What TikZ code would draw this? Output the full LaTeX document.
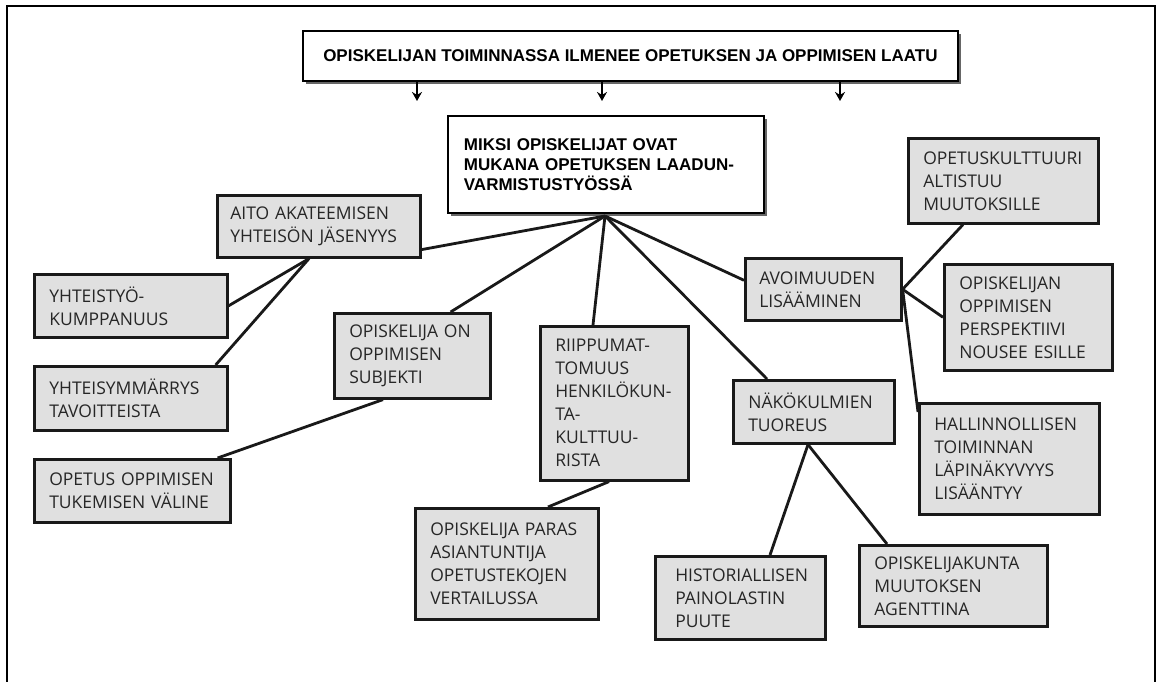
\documentclass[tikz,border=0pt]{standalone}
\usepackage{fontspec}
\usepackage{tikz}
\usetikzlibrary{arrows.meta,shadows}

\newfontfamily\leaffamily{Open Sans}
\newfontfamily\headfamily{Liberation Sans}
\newcommand{\leaffont}{\leaffamily\fontsize{17.5pt}{23pt}\selectfont\hyphenpenalty=10000 }
\newcommand{\headfont}{\headfamily\bfseries\fontsize{17pt}{20pt}\selectfont}

\begin{document}
\begin{tikzpicture}[
    x=1pt, y=-1pt,
    >={Stealth[length=9pt,width=10pt]},
    leaf/.style={draw=black!90, line width=2.6pt, fill=black!12, text=black!85,
        font=\leaffont, align=left, inner xsep=15pt, inner ysep=0pt, anchor=north west},
    head/.style={draw=black, line width=1.8pt, fill=white, font=\headfont,
        inner ysep=0pt, anchor=north west,
        general shadow={fill=black!60, shadow xshift=3pt, shadow yshift=-3pt}},
    link/.style={line width=2.8pt, black!90},
]
\useasboundingbox (0,0) rectangle (1161,682);

% === Frame (open at the bottom) ===
\draw[line width=2pt] (7,682) -- (7,6) -- (1155,6) -- (1155,682);

% === Heading boxes ===
\node[head, minimum width=655pt, minimum height=50pt, align=center] (laatu) at (302,30)
    {OPISKELIJAN TOIMINNASSA ILMENEE OPETUKSEN JA OPPIMISEN LAATU};
\node[head, text width=284pt, inner xsep=16pt, minimum height=97pt, align=left] (miksi) at (447,115)
    {MIKSI OPISKELIJAT OVAT\\MUKANA OPETUKSEN LAADUN-\\VARMISTUSTYÖSSÄ};

% short arrows below the top box
\coordinate (a1) at (417,101);
\coordinate (a2) at (602,101);
\coordinate (a3) at (840,101);
\foreach \a in {a1,a2,a3}
    \draw[->, line width=2.4pt] (laatu.south -| \a) -- (\a);

% === Left branch ===
\node[leaf, text width=177pt, inner xsep=13pt, minimum height=62pt] (aito) at (216,194)
    {AITO AKATEEMISEN\\YHTEISÖN JÄSENYYS};
\node[leaf, text width=163pt, minimum height=63pt] (yhteistyo) at (33,273)
    {YHTEISTYÖ-\\KUMPPANUUS};
\node[leaf, text width=163pt, minimum height=64pt] (ymmarrys) at (33,365)
    {YHTEISYMMÄRRYS\\TAVOITTEISTA};
\node[leaf, text width=166pt, minimum height=63pt] (opetus) at (33,458)
    {OPETUS OPPIMISEN\\TUKEMISEN VÄLINE};
\node[leaf, text width=126pt, minimum height=85pt] (subjekti) at (333,312)
    {OPISKELIJA ON\\OPPIMISEN\\SUBJEKTI};

% === Middle branch ===
\node[leaf, text width=118pt, minimum height=154pt] (riippu) at (539,325)
    {RIIPPUMAT-\\TOMUUS\\HENKILÖKUN-\\TA-\\KULTTUU-\\RISTA};
\node[leaf, text width=153pt, minimum height=111pt] (paras) at (414,507)
    {OPISKELIJA PARAS\\ASIANTUNTIJA\\OPETUSTEKOJEN\\VERTAILUSSA};
\node[leaf, text width=131pt, minimum height=63pt] (nako) at (732,379)
    {NÄKÖKULMIEN\\TUOREUS};
\node[leaf, text width=130pt, inner xsep=20pt, minimum height=83pt] (historia) at (654,555)
    {HISTORIALLISEN\\PAINOLASTIN\\PUUTE};
\node[leaf, text width=158pt, minimum height=81pt] (agentti) at (858,544)
    {OPISKELIJAKUNTA\\MUUTOKSEN\\AGENTTINA};

% === Right branch ===
\node[leaf, text width=128pt, inner xsep=14pt, minimum height=62pt] (avoin) at (744,257)
    {AVOIMUUDEN\\LISÄÄMINEN};
\node[leaf, text width=160pt, minimum height=85pt] (kulttuuri) at (907,137)
    {OPETUSKULTTUURI\\ALTISTUU\\MUUTOKSILLE};
\node[leaf, text width=138pt, minimum height=106pt] (perspektiivi) at (943,263)
    {OPISKELIJAN\\OPPIMISEN\\PERSPEKTIIVI\\NOUSEE ESILLE};
\node[leaf, text width=150pt, minimum height=111pt] (hallinto) at (918,402)
    {HALLINNOLLISEN\\TOIMINNAN\\LÄPINÄKYVYYS\\LISÄÄNTYY};

% === Connectors ===
\coordinate (hub) at (605,216);
\draw[link] (hub) -- ([yshift=9pt]aito.south east);
\draw[link] (hub) -- ([xshift=-41pt]subjekti.north east);
\draw[link] (hub) -- ([xshift=54pt]riippu.north west);
\draw[link] (hub) -- ([xshift=35pt]nako.north west);
\draw[link] (hub) -- ([yshift=9pt]avoin.west);

\coordinate (aitojoint) at ([xshift=93pt]aito.south west);
\draw[link] (aitojoint) -- (yhteistyo.east);
\draw[link] (aitojoint) -- ([xshift=-13pt]ymmarrys.north east);
\draw[link] ([xshift=50pt]subjekti.south west) -- ([xshift=-14pt]opetus.north east);
\draw[link] ([xshift=70pt]riippu.south west) -- ([xshift=134pt]paras.north west);
\draw[link] ([xshift=76pt]nako.south west) -- ([xshift=116pt]historia.north west);
\draw[link] ([xshift=76pt]nako.south west) -- ([xshift=29pt]agentti.north west);
\draw[link] (avoin.east) -- ([xshift=56pt]kulttuuri.south west);
\draw[link] (avoin.east) -- (perspektiivi.west);
\draw[link] (avoin.east) -- ([yshift=-10pt]hallinto.north west);

\end{tikzpicture}
\end{document}
